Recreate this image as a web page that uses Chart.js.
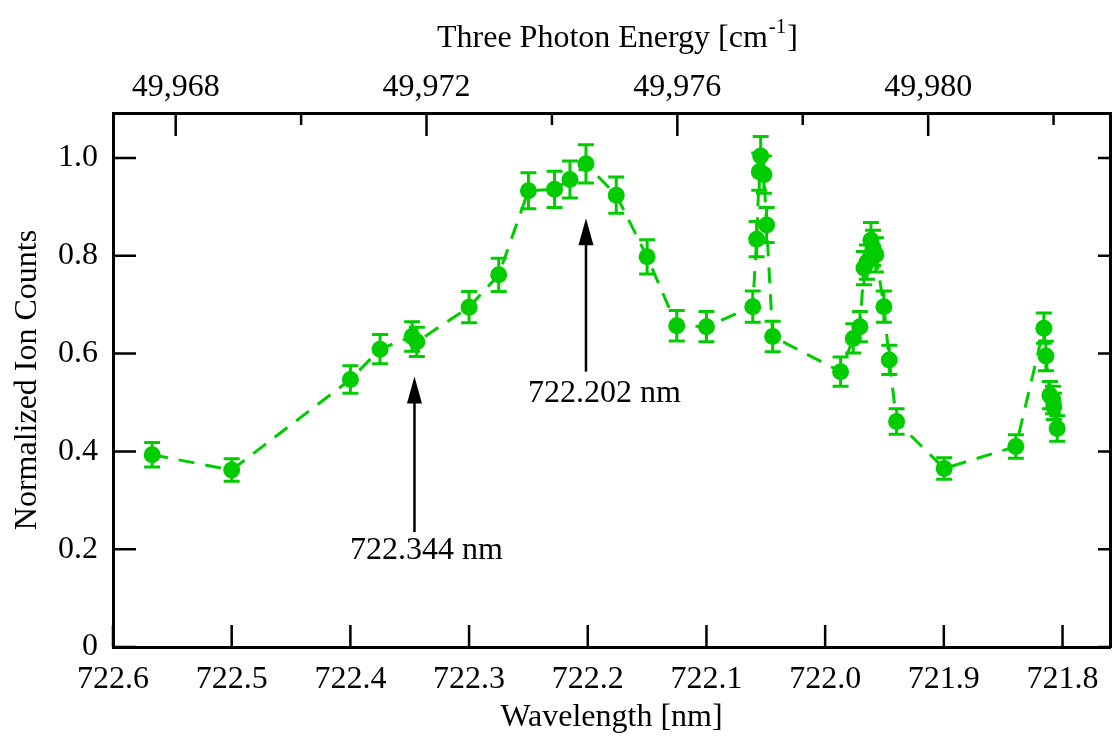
<!DOCTYPE html>
<html><head><meta charset="utf-8">
<script src="https://cdn.jsdelivr.net/npm/chart.js@4.4.1/dist/chart.umd.min.js"></script>
<style>html,body{margin:0;padding:0;background:#fff;} canvas{display:block;}</style>
</head><body>
<canvas id="c" width="1112" height="738"></canvas>
<script>
const wavelengths = [722.567, 722.500, 722.400, 722.375, 722.348, 722.344, 722.300, 722.275, 722.250, 722.228,
  722.215, 722.2015, 722.176, 722.150, 722.125, 722.100, 722.061, 722.0577, 722.0555, 722.0543,
  722.0516, 722.0493, 722.0442, 721.987, 721.9763, 721.9707, 721.9673, 721.9648, 721.9614, 721.9597,
  721.9572, 721.9505, 721.946, 721.9398, 721.8997, 721.8393, 721.8157, 721.814, 721.8106, 721.8081,
  721.8073, 721.8045];
const counts = [0.393, 0.362, 0.547, 0.609, 0.635, 0.624, 0.695, 0.761, 0.933, 0.936,
  0.956, 0.988, 0.924, 0.798, 0.657, 0.655, 0.696, 0.834, 0.972, 1.004,
  0.966, 0.863, 0.635, 0.563, 0.631, 0.655, 0.775, 0.787, 0.832, 0.816,
  0.802, 0.696, 0.587, 0.461, 0.365, 0.410, 0.652, 0.595, 0.515, 0.505,
  0.492, 0.447];
const errors = [0.025, 0.023, 0.028, 0.030, 0.030, 0.030, 0.032, 0.034, 0.037, 0.037,
  0.038, 0.039, 0.037, 0.035, 0.031, 0.031, 0.032, 0.036, 0.038, 0.040,
  0.038, 0.036, 0.031, 0.030, 0.030, 0.031, 0.034, 0.035, 0.036, 0.036,
  0.035, 0.032, 0.030, 0.026, 0.022, 0.024, 0.031, 0.030, 0.028, 0.028,
  0.027, 0.026];
const wavelengthTicks = [722.6, 722.5, 722.4, 722.3, 722.2, 722.1, 722.0, 721.9, 721.8];
const countTicks = [0, 0.2, 0.4, 0.6, 0.8, 1.0];
const energyTicks = [49968, 49972, 49976, 49980];
const energyMinorTicks = [49970, 49974, 49978, 49982];
const arrowWavelengths = [722.346, 722.2015];
const arrowTails = [0.235, 0.563];
const arrowTips = [0.553, 0.877];
const noteTexts = ['722.344 nm', '722.202 nm'];
const noteWavelengths = [722.336, 722.186];
const noteCounts = [0.198, 0.519];

const GREEN = 'rgb(0,204,0)';
const FONT = '"Liberation Serif", "Times New Roman", serif';
const FS = 32;

const errorBars = {
  id: 'errorBars',
  afterDatasetsDraw(chart) {
    const x = chart.scales.x, y = chart.scales.y, ctx = chart.ctx;
    ctx.save();
    ctx.strokeStyle = GREEN; ctx.lineWidth = 3; ctx.lineCap = 'butt';
    wavelengths.forEach((w, i) => {
      const px = x.getPixelForValue(w);
      const yt = y.getPixelForValue(counts[i] + errors[i]);
      const yb = y.getPixelForValue(counts[i] - errors[i]);
      ctx.beginPath();
      ctx.moveTo(px, yt); ctx.lineTo(px, yb);
      ctx.moveTo(px - 8, yt); ctx.lineTo(px + 8, yt);
      ctx.moveTo(px - 8, yb); ctx.lineTo(px + 8, yb);
      ctx.stroke();
    });
    ctx.restore();
  }
};

const innerTicks = {
  id: 'innerTicks',
  afterDraw(chart) {
    const {ctx, chartArea: a} = chart;
    const x = chart.scales.x, x2 = chart.scales.x2, y = chart.scales.y;
    ctx.save();
    ctx.strokeStyle = '#000'; ctx.lineWidth = 2.5;
    ctx.beginPath();
    wavelengthTicks.forEach(v => { const p = x.getPixelForValue(v); ctx.moveTo(p, a.bottom); ctx.lineTo(p, a.bottom - 22); });
    energyTicks.forEach(v => { const p = x2.getPixelForValue(v); ctx.moveTo(p, a.top); ctx.lineTo(p, a.top + 23); });
    energyMinorTicks.forEach(v => { const p = x2.getPixelForValue(v); ctx.moveTo(p, a.top); ctx.lineTo(p, a.top + 12); });
    countTicks.forEach(v => { const p = y.getPixelForValue(v); ctx.moveTo(a.left, p); ctx.lineTo(a.left + 23, p); ctx.moveTo(a.right, p); ctx.lineTo(a.right - 12, p); });
    ctx.stroke();

    const main = 'Three Photon Energy [cm', sup = '-1', end = ']';
    ctx.fillStyle = '#000';
    ctx.textBaseline = 'alphabetic';
    ctx.font = FS + 'px ' + FONT;
    const w1 = ctx.measureText(main).width, w3 = ctx.measureText(end).width;
    ctx.font = '21px ' + FONT;
    const w2 = ctx.measureText(sup).width;
    const cx = (a.left + a.right) / 2 + 6;
    let sx = cx - (w1 + w2 + w3 + 2) / 2;
    const base = a.top - 66;
    ctx.font = FS + 'px ' + FONT;
    ctx.textAlign = 'left';
    ctx.fillText(main, sx, base);
    ctx.font = '21px ' + FONT;
    ctx.fillText(sup, sx + w1 + 1, base - 14);
    ctx.font = FS + 'px ' + FONT;
    ctx.fillText(end, sx + w1 + w2 + 2, base);

    const y1 = chart.scales.y;
    ctx.lineWidth = 2.5;
    arrowWavelengths.forEach((w, i) => {
      const px = x.getPixelForValue(w);
      const pt = y1.getPixelForValue(arrowTips[i]);
      const pb = y1.getPixelForValue(arrowTails[i]);
      ctx.beginPath(); ctx.moveTo(px, pb); ctx.lineTo(px, pt + 20); ctx.stroke();
      ctx.beginPath(); ctx.moveTo(px, pt); ctx.lineTo(px - 7.5, pt + 27); ctx.lineTo(px + 7.5, pt + 27); ctx.closePath(); ctx.fill();
    });
    ctx.textAlign = 'center'; ctx.textBaseline = 'middle';
    ctx.font = FS + 'px ' + FONT;
    noteTexts.forEach((t, i) => {
      ctx.fillText(t, x.getPixelForValue(noteWavelengths[i]), y1.getPixelForValue(noteCounts[i]));
    });
    ctx.restore();
  }
};

const noPad = s => { s.paddingLeft = 0; s.paddingRight = 0; s.paddingTop = 0; s.paddingBottom = 0; };
const font = {family: FONT, size: FS};
new Chart(document.getElementById('c'), {
  type: 'scatter',
  data: {
    datasets: [{
      data: wavelengths.map((w, i) => ({x: w, y: counts[i]})),
      showLine: true,
      borderColor: GREEN, borderWidth: 3, borderDash: [16, 11],
      pointRadius: 8.5, pointBackgroundColor: GREEN, pointBorderWidth: 0, pointHoverRadius: 8.5,
      xAxisID: 'x', yAxisID: 'y', tension: 0, clip: false
    }]
  },
  options: {
    responsive: false, animation: false, devicePixelRatio: 1,
    layout: {padding: 0, autoPadding: false},
    plugins: {legend: {display: false}, tooltip: {enabled: false}},
    events: [],
    scales: {
      x: {
        type: 'linear', position: 'bottom', reverse: true, min: 721.76, max: 722.6,
        afterBuildTicks: s => { s.ticks = wavelengthTicks.map(v => ({value: v})); },
        afterFit: s => { s.height = 91; noPad(s); },
        ticks: {callback: v => v.toFixed(1), font, color: '#000', padding: 13, maxRotation: 0, autoSkip: false},
        grid: {display: false, drawTicks: false},
        border: {display: true, color: '#000', width: 3},
        title: {display: true, text: 'Wavelength [nm]', font, color: '#000', padding: {top: 0, bottom: 1}}
      },
      x2: {
        type: 'linear', position: 'top', min: 49967.0, max: 49982.9,
        afterBuildTicks: s => { s.ticks = energyTicks.map(v => ({value: v})); },
        afterFit: s => { s.height = 113; noPad(s); },
        ticks: {callback: v => v.toLocaleString('en-US'), font, color: '#000', padding: 6, maxRotation: 0, autoSkip: false},
        grid: {display: false, drawTicks: false},
        border: {display: true, color: '#000', width: 3}
      },
      y: {
        type: 'linear', position: 'left', min: 0, max: 1.092,
        afterBuildTicks: s => { s.ticks = countTicks.map(v => ({value: v})); },
        afterFit: s => { s.width = 113; noPad(s); },
        ticks: {callback: v => v === 0 ? '0' : v.toFixed(1), font, color: '#000', padding: 15},
        grid: {display: false, drawTicks: false},
        border: {display: true, color: '#000', width: 3},
        title: {display: true, text: 'Normalized Ion Counts', font, color: '#000', padding: {top: 8, bottom: 0}}
      },
      y2: {
        type: 'linear', position: 'right', min: 0, max: 1.092,
        afterFit: s => { s.width = 2; noPad(s); },
        ticks: {display: false},
        grid: {display: false, drawTicks: false},
        border: {display: true, color: '#000', width: 3}
      }
    }
  },
  plugins: [errorBars, innerTicks]
});
</script>
</body></html>
